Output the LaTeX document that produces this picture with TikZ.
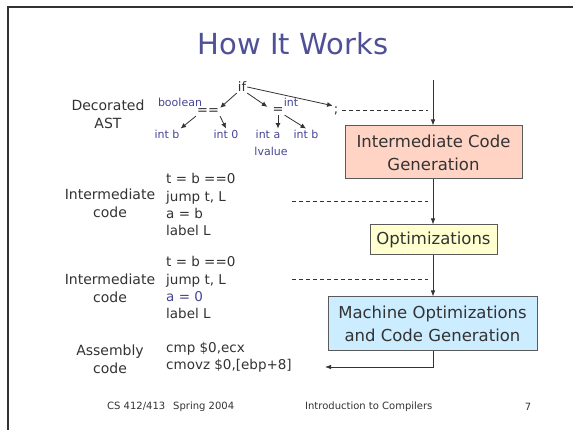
\documentclass[tikz,border=0pt]{standalone}
\usepackage{fontspec}
\setmainfont{DejaVu Sans}
\usetikzlibrary{arrows.meta}
\definecolor{titleblue}{RGB}{80,80,150}
\definecolor{astblue}{RGB}{70,70,150}
\definecolor{txtgray}{RGB}{51,51,51}
\definecolor{icfill}{RGB}{255,212,196}
\definecolor{optfill}{RGB}{255,255,208}
\definecolor{machfill}{RGB}{204,236,255}
\definecolor{boxline}{RGB}{90,90,90}
\tikzset{
  lbl/.style={font=\fontsize{14}{18}\selectfont, text=txtgray, align=center, inner sep=0pt},
  codeln/.style={font=\fontsize{13.5}{17}\selectfont, text=txtgray, anchor=west, inner sep=0pt, text height=10pt, text depth=3pt},
  ast/.style={font=\fontsize{11}{13}\selectfont, text=astblue, inner sep=1pt},
  astop/.style={font=\fontsize{13}{15}\selectfont, text=txtgray, inner sep=1pt},
  stage/.style={draw=boxline, line width=1pt, font=\fontsize{16.5}{23}\selectfont, text=txtgray, align=center, inner sep=0pt},
  flow/.style={draw=txtgray, line width=0.8pt, -{Latex[length=6pt,width=4.5pt]}},
  treearr/.style={draw=txtgray, line width=0.8pt, -{Latex[length=5.5pt,width=5pt]}},
  dashlink/.style={draw=txtgray, line width=0.8pt, dash pattern=on 4pt off 3pt},
  foot/.style={font=\fontsize{10}{12}\selectfont, text=txtgray, inner sep=0pt}
}
\begin{document}
\begin{tikzpicture}[x=1pt,y=-1pt]
\useasboundingbox (0,0) rectangle (573,430);
\fill[white] (0,0) rectangle (573,430);
% frame
\draw[line width=2pt, color=txtgray] (8,430) -- (8,7) -- (573,7);
% title
\node[font=\fontsize{29}{33}\selectfont, text=titleblue, inner sep=0pt] (title) at (293,44) {How It Works};
% left labels
\node[lbl] (lab1) at (108,114) {Decorated\\AST};
\node[lbl] (lab2) at (110,203) {Intermediate\\code};
\node[lbl] (lab3) at (110,288) {Intermediate\\code};
\node[lbl] (lab4) at (110,359) {Assembly\\code};
% AST
\node[astop] (if) at (242,87) {if};
\node[astop] (eq1) at (208,112) {==};
\node[astop] (asg) at (278,111) {=};
\node[astop] (semi) at (336,111) {;};
\node[ast] (bool) at (180,102) {boolean};
\node[ast] (intl) at (291,102) {int};
\node[ast] (b1) at (167,134) {int b};
\node[ast] (z0) at (226,134) {int 0};
\node[ast] (a1) at (268,134) {int a};
\node[ast] (b2) at (306,134) {int b};
\node[ast] (lval) at (271,151) {lvalue};
\draw[treearr] (if.south west) -- (eq1.north east);
\draw[treearr] (if.south east) -- ([xshift=-4pt]asg.north west);
\draw[treearr] (if.east) -- (semi.north west);
\draw[treearr] (eq1.south west) -- (b1.north east);
\draw[treearr] (eq1.south east) -- (z0.north);
\draw[treearr] (asg.south) -- (asg.south |- a1.north);
\draw[treearr] (asg.south east) -- (b2.north);
% code blocks
\node[codeln] (c1) at (166,180) {t = b ==0};
\node[codeln] (c2) at (166,198) {jump t, L};
\node[codeln] (c3) at (166,215) {a = b};
\node[codeln] (c4) at (166,232) {label L};
\node[codeln] (d1) at (166,263) {t = b ==0};
\node[codeln] (d2) at (166,281) {jump t, L};
\node[codeln, text=astblue] (d3) at (166,298) {a = 0};
\node[codeln] (d4) at (166,315) {label L};
\node[codeln] (e1) at (166,349) {cmp \$0,ecx};
\node[codeln] (e2) at (166,366) {cmovz \$0,[ebp+8]};
% stage boxes
\node[stage, fill=icfill, minimum width=177pt, minimum height=53pt] (ic) at (433.5,152.5) {Intermediate Code\\Generation};
\node[stage, fill=optfill, minimum width=127pt, minimum height=30pt] (opt) at (433.5,240) {Optimizations};
\node[stage, fill=machfill, minimum width=209pt, minimum height=53pt] (mach) at (432.5,323.5) {Machine Optimizations\\and Code Generation};
% flow
\coordinate (top) at (433,80);
\coordinate (outbend) at (433,367);
\coordinate (outend) at (325,367);
\draw[flow] (top) -- (ic.north -| top);
\draw[flow] (ic.south -| top) -- (opt.north -| top);
\draw[flow] (opt.south -| top) -- (mach.north -| top);
\draw[flow] (mach.south -| top) -- (outbend) -- (outend);
% dashed links
\coordinate (ds1) at (342,110);
\coordinate (de1) at (428,110);
\coordinate (ds2) at (292,201);
\coordinate (de2) at (428,201);
\coordinate (ds3) at (292,279);
\coordinate (de3) at (428,279);
\draw[dashlink] (ds1) -- (de1);
\draw[dashlink] (ds2) -- (de2);
\draw[dashlink] (ds3) -- (de3);
% footer
\node[foot, anchor=west] (f1) at (107,407) {CS 412/413\hspace{8pt}Spring 2004};
\node[foot, anchor=west] (f2) at (305,407) {Introduction to Compilers};
\node[foot] (f3) at (528,407) {7};
\end{tikzpicture}
\end{document}
